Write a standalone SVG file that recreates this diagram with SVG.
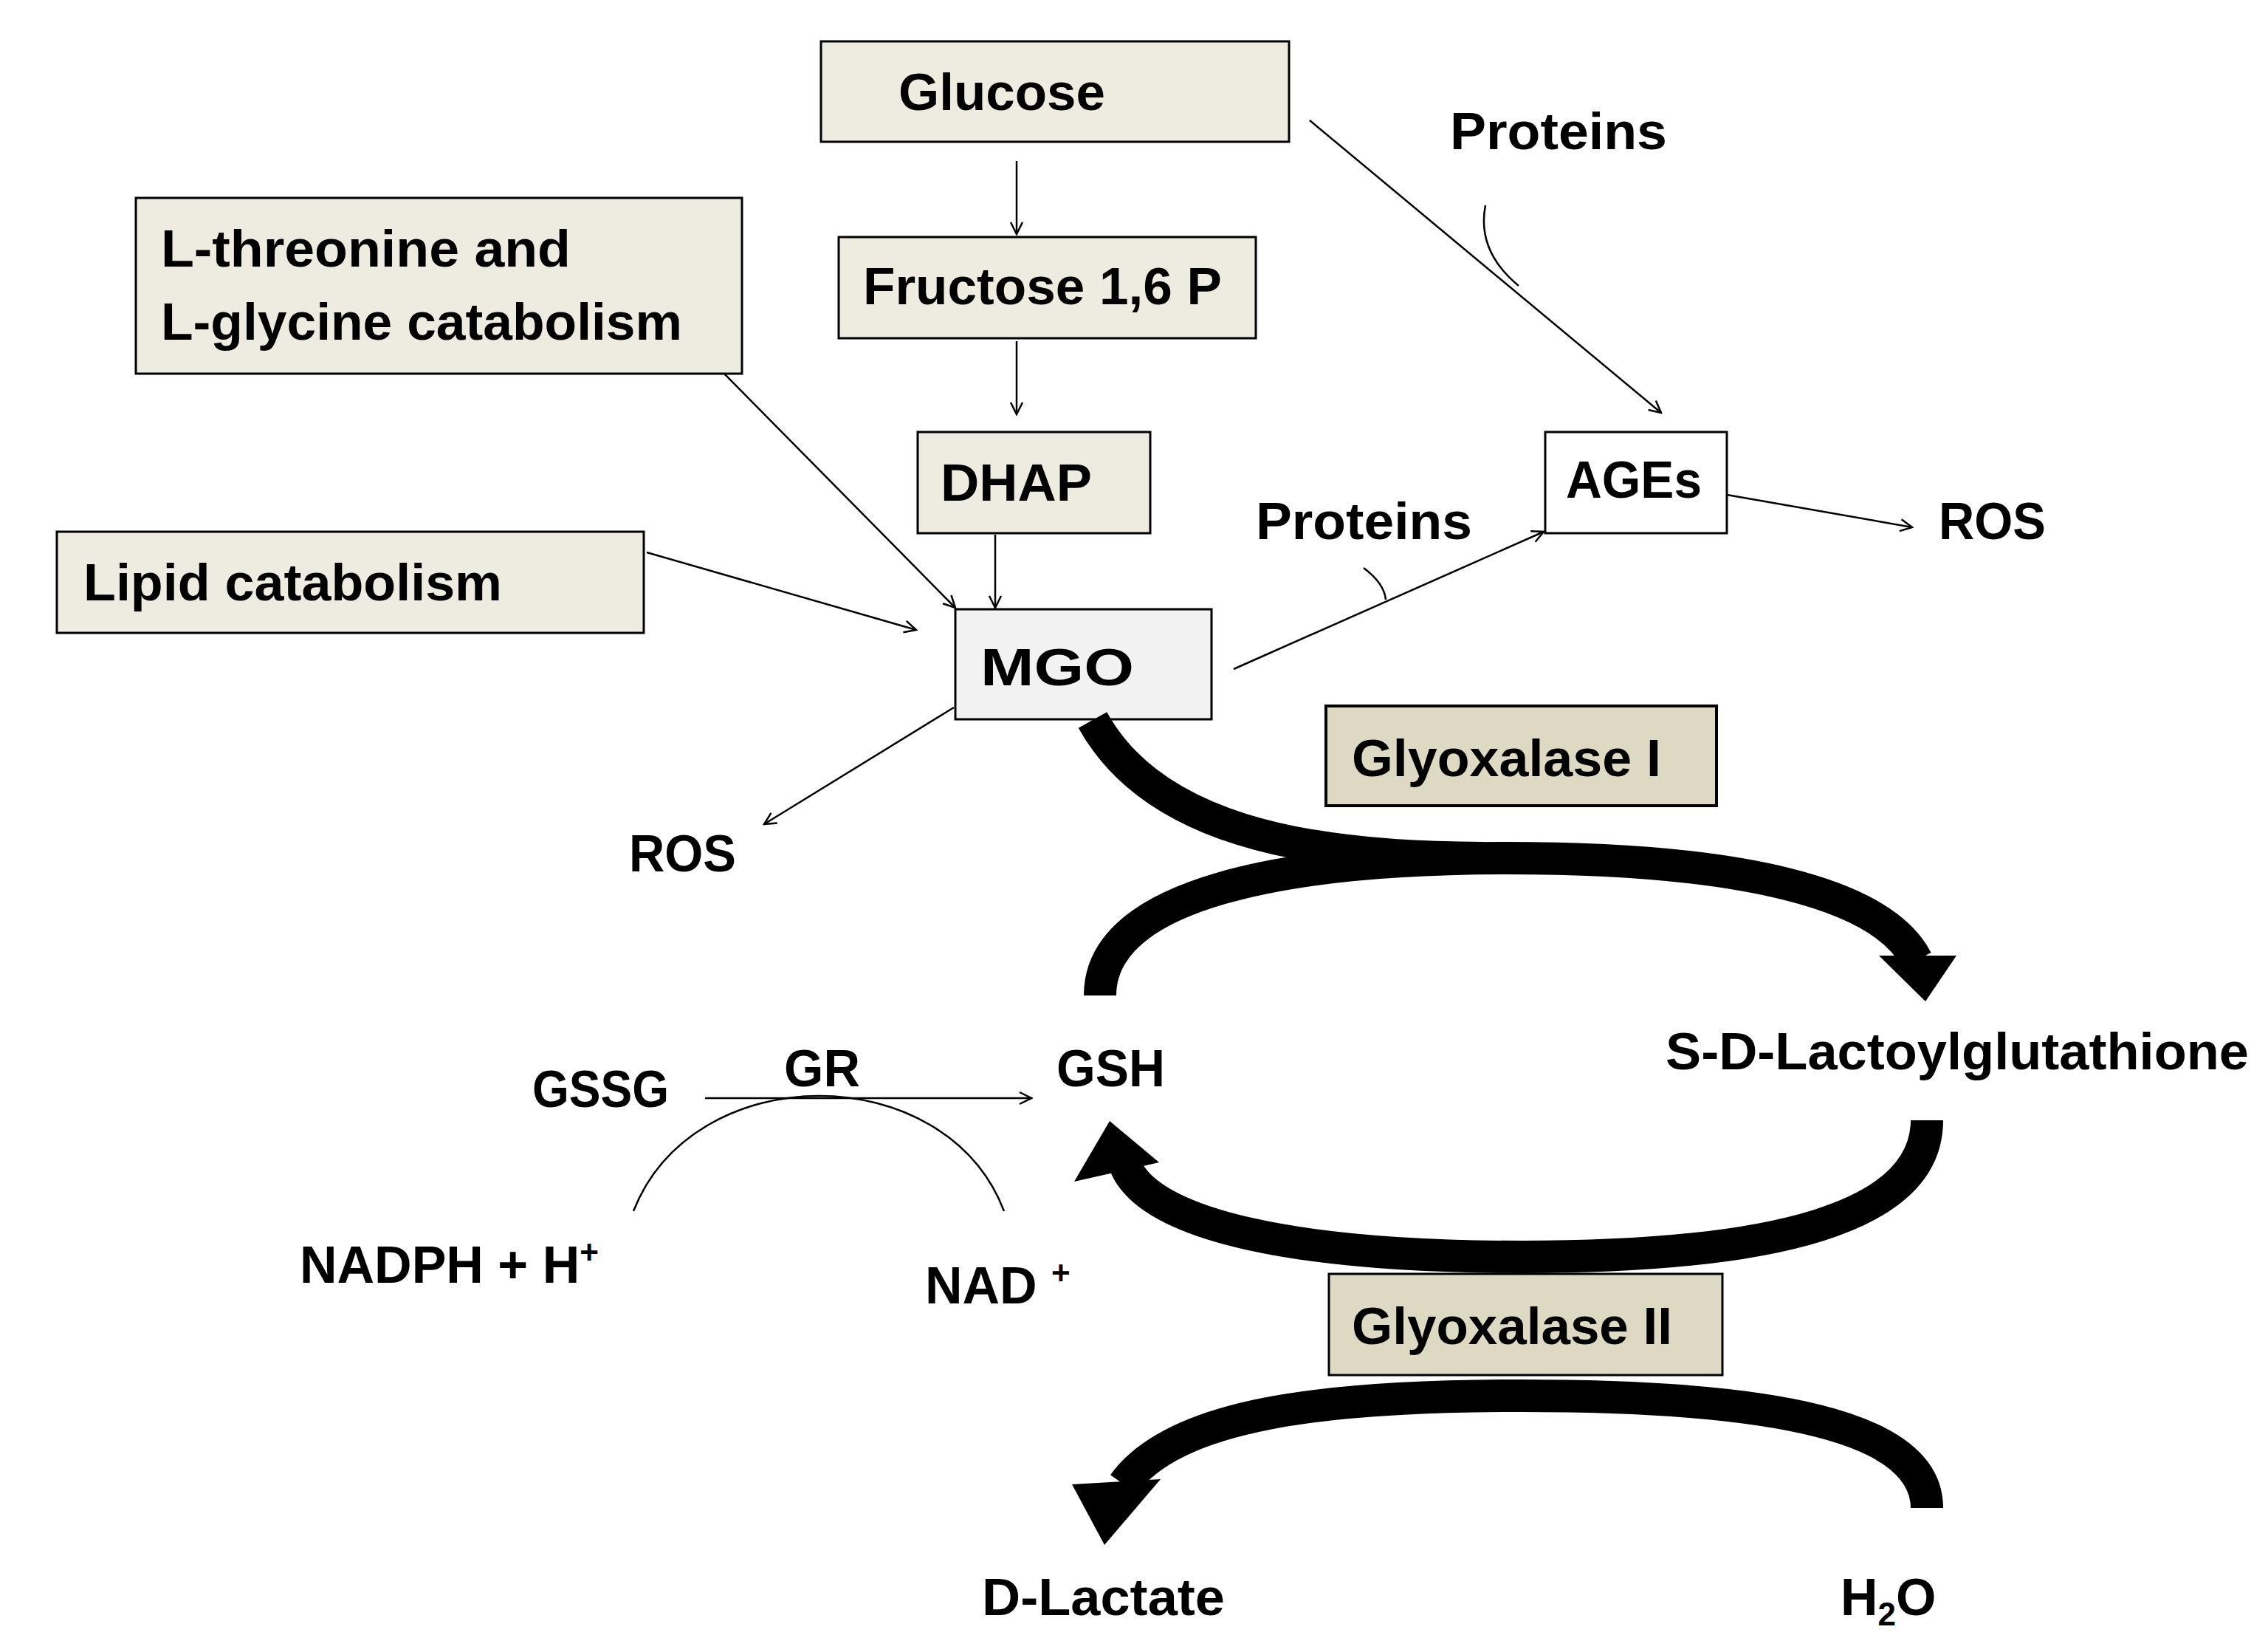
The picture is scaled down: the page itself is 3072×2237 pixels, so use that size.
<svg xmlns="http://www.w3.org/2000/svg" width="3072" height="2237" viewBox="0 0 3072 2237">
<style>
.bx{fill:#eeece1;stroke:#000;stroke-width:3}
.t{font-family:"Liberation Sans",Arial,sans-serif;font-weight:bold;font-size:70px;fill:#000}
.ln{stroke:#000;stroke-width:2.5;fill:none}
.tk{stroke:#000;fill:none;stroke-width:44}
</style>
<defs>
<marker id="a" viewBox="0 0 20 20" refX="18" refY="10" markerWidth="20" markerHeight="20" markerUnits="userSpaceOnUse" orient="auto"><path d="M2,2 L18,10 L2,18" fill="none" stroke="#000" stroke-width="2.5"/></marker>
</defs>
<rect width="3072" height="2237" fill="#fff"/>
<g id="glucose"><rect class="bx" x="1112" y="56" width="634" height="136"/><text class="t" x="1217" y="149" textLength="280" lengthAdjust="spacingAndGlyphs">Glucose</text></g>
<g id="fructose"><rect class="bx" x="1136" y="321" width="565" height="137"/><text class="t" x="1169" y="412" textLength="486" lengthAdjust="spacingAndGlyphs">Fructose 1,6 P</text></g>
<g id="lthr"><rect class="bx" x="184" y="268" width="821" height="238"/><text class="t" x="218" y="361" textLength="555" lengthAdjust="spacingAndGlyphs">L-threonine and</text><text class="t" x="218" y="460" textLength="706" lengthAdjust="spacingAndGlyphs">L-glycine catabolism</text></g>
<g id="dhap"><rect class="bx" x="1243" y="585" width="315" height="137"/><text class="t" x="1274" y="678" textLength="205" lengthAdjust="spacingAndGlyphs">DHAP</text></g>
<g id="lipid"><rect class="bx" x="77" y="720" width="795" height="137"/><text class="t" x="113" y="813" textLength="567" lengthAdjust="spacingAndGlyphs">Lipid catabolism</text></g>
<g id="mgo"><rect x="1294" y="825" width="347" height="149" fill="#f2f2f2" stroke="#000" stroke-width="3"/><text class="t" x="1328" y="928" font-size="84" textLength="208" lengthAdjust="spacingAndGlyphs">MGO</text></g>
<g id="ages"><rect x="2093" y="585" width="246" height="137" fill="#fff" stroke="#000" stroke-width="3"/><text class="t" x="2121" y="674" textLength="184" lengthAdjust="spacingAndGlyphs">AGEs</text></g>
<g id="glo1"><rect x="1796" y="956" width="529" height="135" fill="#ddd9c3" stroke="#000" stroke-width="4"/><text class="t" x="1831" y="1051" textLength="419" lengthAdjust="spacingAndGlyphs">Glyoxalase I</text></g>
<g id="glo2"><rect x="1800" y="1725" width="533" height="137" fill="#ddd9c3" stroke="#000" stroke-width="3"/><text class="t" x="1831" y="1820" textLength="434" lengthAdjust="spacingAndGlyphs">Glyoxalase II</text></g>
<g id="labels">
<text class="t" x="1964" y="202" textLength="294" lengthAdjust="spacingAndGlyphs">Proteins</text>
<text class="t" x="1701" y="730" textLength="293" lengthAdjust="spacingAndGlyphs">Proteins</text>
<text class="t" x="2626" y="730" textLength="145" lengthAdjust="spacingAndGlyphs">ROS</text>
<text class="t" x="852" y="1180" textLength="145" lengthAdjust="spacingAndGlyphs">ROS</text>
<text class="t" x="2256" y="1448" textLength="790" lengthAdjust="spacingAndGlyphs">S-D-Lactoylglutathione</text>
<text class="t" x="1431" y="1471" textLength="147" lengthAdjust="spacingAndGlyphs">GSH</text>
<text class="t" x="721" y="1499" textLength="185" lengthAdjust="spacingAndGlyphs">GSSG</text>
<text class="t" x="1062" y="1471" textLength="103" lengthAdjust="spacingAndGlyphs">GR</text>
<text class="t" x="406" y="1737">NADPH + H<tspan font-size="44" dy="-26">+</tspan></text>
<text class="t" x="1253" y="1765">NAD <tspan font-size="44" dy="-26">+</tspan></text>
<text class="t" x="1330" y="2187" textLength="329" lengthAdjust="spacingAndGlyphs">D-Lactate</text>
<text class="t" x="2493" y="2187">H<tspan font-size="44" dy="14">2</tspan><tspan dy="-14">O</tspan></text>
</g>
<g id="connectors">
<line class="ln" x1="1377" y1="218" x2="1377" y2="317" marker-end="url(#a)"/>
<line class="ln" x1="1377" y1="462" x2="1377" y2="561" marker-end="url(#a)"/>
<line class="ln" x1="1348" y1="724" x2="1348" y2="823" marker-end="url(#a)"/>
<line class="ln" x1="981" y1="506" x2="1294" y2="823" marker-end="url(#a)"/>
<line class="ln" x1="876" y1="748" x2="1241" y2="853" marker-end="url(#a)"/>
<line class="ln" x1="1774" y1="163" x2="2250" y2="559" marker-end="url(#a)"/>
<path class="ln" d="M2012,278 Q2000,340 2057,387"/>
<line class="ln" x1="1671" y1="906" x2="2091" y2="720" marker-end="url(#a)"/>
<path class="ln" d="M1847,769 Q1875,790 1877,812"/>
<line class="ln" x1="2339" y1="670" x2="2590" y2="714" marker-end="url(#a)"/>
<line class="ln" x1="1292" y1="958" x2="1035" y2="1116" marker-end="url(#a)"/>
<line class="ln" x1="955" y1="1487" x2="1397" y2="1487" marker-end="url(#a)"/>
<path class="ln" d="M858,1640 C940,1432 1280,1432 1360,1640"/>
<path class="tk" stroke-width="40" d="M1480,975 C1560,1120 1760,1162 2010,1162"/>
<path class="tk" d="M1490,1348 C1490,1210 1740,1162 2042,1162 C2360,1162 2550,1210 2596,1300"/>
<polygon points="2545,1294 2650,1294 2608,1356"/>
<path class="tk" d="M2610,1517 C2610,1650 2400,1702 2061,1702 C1760,1702 1560,1660 1525,1580"/>
<polygon points="1503,1518 1455,1600 1570,1574"/>
<path class="tk" d="M2610,2042 C2610,1930 2400,1890 2061,1890 C1790,1890 1590,1915 1522,2010"/>
<polygon points="1496,2092 1452,2010 1572,2003"/>
</g>
</svg>
